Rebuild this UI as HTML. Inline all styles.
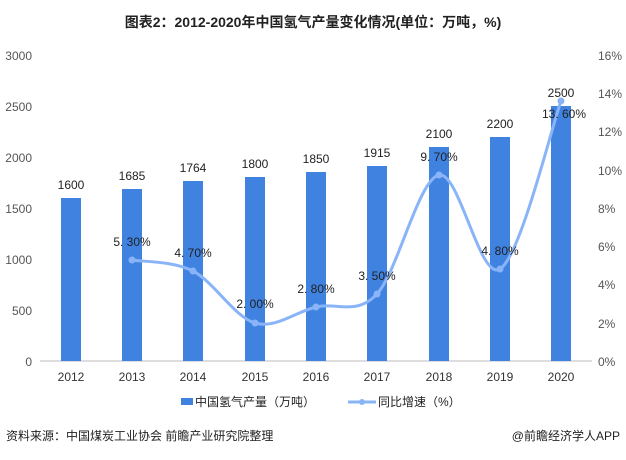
<!DOCTYPE html>
<html><head><meta charset="utf-8"><style>
body{margin:0;background:#fff;}
svg text{font-family:"Liberation Sans","Noto Sans CJK SC",sans-serif;}
</style></head><body>
<svg width="626" height="455" viewBox="0 0 626 455" xmlns="http://www.w3.org/2000/svg">
<rect width="626" height="455" fill="#fff"/>
<text x="313" y="27" text-anchor="middle" font-size="14" font-weight="bold" fill="#222">图表2：2012-2020年中国氢气产量变化情况(单位：万吨，%)</text>
<g font-size="12" fill="#555" text-anchor="end">
<text x="32" y="60">3000</text><text x="32" y="111">2500</text><text x="32" y="162">2000</text><text x="32" y="213">1500</text><text x="32" y="264">1000</text><text x="32" y="315">500</text><text x="32" y="366">0</text>
</g>
<g font-size="12" fill="#555" text-anchor="start">
<text x="598" y="60">16%</text><text x="598" y="98">14%</text><text x="598" y="136">12%</text><text x="598" y="175">10%</text><text x="598" y="213">8%</text><text x="598" y="251">6%</text><text x="598" y="289">4%</text><text x="598" y="328">2%</text><text x="598" y="366">0%</text>
</g>
<line x1="40" y1="361" x2="592" y2="361" stroke="#bbb"/>
<g fill="#3f82e0">
<rect x="61" y="198" width="20" height="163"/>
<rect x="122" y="189" width="20" height="172"/>
<rect x="183" y="181" width="20" height="180"/>
<rect x="245" y="177" width="20" height="184"/>
<rect x="306" y="172" width="20" height="189"/>
<rect x="367" y="166" width="20" height="195"/>
<rect x="429" y="147" width="20" height="214"/>
<rect x="490" y="137" width="20" height="224"/>
<rect x="551" y="106" width="20" height="255"/>
</g>
<g font-size="12" fill="#222" text-anchor="middle">
<text x="71" y="189">1600</text><text x="132" y="180">1685</text><text x="193" y="172">1764</text><text x="255" y="168">1800</text><text x="316" y="163">1850</text><text x="377" y="157">1915</text><text x="439" y="138">2100</text><text x="500" y="128">2200</text><text x="561" y="97">2500</text>
</g>
<path d="M132,260 C142,262 172.5,260.5 193,271 C213.5,281.5 234.5,317 255,323 C275.3,329 295.7,311.8 316,307 C336.5,302.2 356.5,316 377,294 C397.5,272 418.5,179.2 439,175 C459.3,170.8 479.7,281.3 500,269 C520.3,256.7 551,129 561,101" fill="none" stroke="#8ab4f8" stroke-width="3"/>
<g fill="#8ab4f8">
<circle cx="132" cy="260" r="3.5"/><circle cx="193" cy="271" r="3.5"/><circle cx="255" cy="323" r="3.5"/><circle cx="316" cy="307" r="3.5"/><circle cx="377" cy="294" r="3.5"/><circle cx="439" cy="175" r="3.5"/><circle cx="500" cy="269" r="3.5"/><circle cx="561" cy="101" r="3.5"/>
</g>
<g font-size="12" fill="#222" text-anchor="middle">
<text x="132" y="246">5. 30%</text><text x="193" y="257">4. 70%</text><text x="255" y="308">2. 00%</text><text x="316" y="293">2. 80%</text><text x="377" y="280">3. 50%</text><text x="439" y="161">9. 70%</text><text x="500" y="255">4. 80%</text><text x="564" y="118">13. 60%</text>
</g>
<g font-size="12" fill="#333" text-anchor="middle">
<text x="71" y="381">2012</text><text x="132" y="381">2013</text><text x="193" y="381">2014</text><text x="255" y="381">2015</text><text x="316" y="381">2016</text><text x="377" y="381">2017</text><text x="439" y="381">2018</text><text x="500" y="381">2019</text><text x="561" y="381">2020</text>
</g>
<rect x="181" y="398" width="12" height="7" fill="#3f82e0"/>
<text x="195" y="406" font-size="12" fill="#222">中国氢气产量（万吨）</text>
<line x1="348" y1="402" x2="376" y2="402" stroke="#8ab4f8" stroke-width="3"/>
<circle cx="362" cy="402" r="3" fill="#8ab4f8"/>
<text x="378" y="406" font-size="12" fill="#222">同比增速（%）</text>
<text x="6" y="440" font-size="12" fill="#222">资料来源：中国煤炭工业协会 前瞻产业研究院整理</text>
<text x="620" y="440" font-size="12" fill="#222" text-anchor="end">@前瞻经济学人APP</text>
</svg>
</body></html>
